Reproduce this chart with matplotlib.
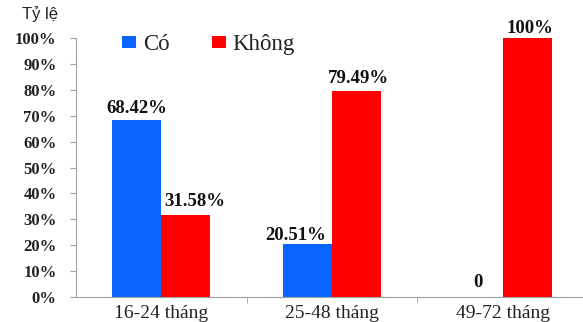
import matplotlib
matplotlib.use("Agg")
import matplotlib.pyplot as plt
import numpy as np

categories = ["16-24 tháng", "25-48 tháng", "49-72 tháng"]
series_names = ["Có", "Không"]
co_values = [68.42, 20.51, 0]
khong_values = [31.58, 79.49, 100]
co_labels = ["68.42%", "20.51%", "0"]
khong_labels = ["31.58%", "79.49%", "100%"]
y_ticks = [0, 10, 20, 30, 40, 50, 60, 70, 80, 90, 100]

# label nudges in pixels (the original shifts a few labels off the bar centre)
co_nudge = [(0, 7), (-12, 4), (0, 10)]
khong_nudge = [(9, 9), (2, 8), (3, 5)]

BLUE = "#0A64FF"
RED = "#FF0000"
SERIF = ["Liberation Serif", "DejaVu Serif"]
plt.rcParams["font.family"] = SERIF

fig = plt.figure(figsize=(5.83, 3.22), dpi=100)
# axes run a little past the right edge of the picture, like the original
ax = fig.add_axes([76 / 583, 1 - 297 / 322, 512 / 583, 259 / 322])

x = np.arange(len(categories))
w = 0.287
b1 = ax.bar(x - w / 2, co_values, w, color=BLUE, label=series_names[0])
b2 = ax.bar(x + w / 2, khong_values, w, color=RED, label=series_names[1])

for bars, labels, nudges in ((b1, co_labels, co_nudge), (b2, khong_labels, khong_nudge)):
    for bar, lab, (dx, dy) in zip(bars, labels, nudges):
        ax.annotate(lab, (bar.get_x() + bar.get_width() / 2, bar.get_height()),
                    xytext=(dx, dy), textcoords="offset pixels",
                    ha="center", va="baseline", fontsize=13.5, fontweight="bold",
                    color="#111111")

ax.set_xlim(-0.5, 2.5)
ax.set_ylim(0, 100)
ax.set_yticks(y_ticks)
ax.set_yticklabels([f"{v}%" for v in y_ticks], fontsize=12,
                   fontweight="bold", color="#222222")
ax.set_xticks(x)
ax.set_xticklabels(categories, fontsize=14, color="#222222")
ax.set_xticks([0.5, 1.5, 2.5], minor=True)
ax.tick_params(axis="x", which="major", length=0, pad=5.5)
ax.tick_params(axis="x", which="minor", length=4, color="#A0A0A0")
ax.tick_params(axis="y", length=4, color="#A0A0A0", pad=10)

for s in ("top", "right"):
    ax.spines[s].set_visible(False)
for s in ("left", "bottom"):
    ax.spines[s].set_color("#A0A0A0")

leg = ax.legend(loc="upper left", bbox_to_anchor=(0.05, 1.095), ncol=2, frameon=False,
                fontsize=16.5, handlelength=0.6, handleheight=0.4, handletextpad=0.3,
                columnspacing=1.85)
for t in leg.get_texts():
    t.set_fontfamily(SERIF)
    t.set_color("#222222")

fig.text(22 / 583, 1 - 14 / 322, "Tỷ lệ", fontsize=12, family="Liberation Sans",
         va="center", ha="left", color="#222222")

fig.savefig("out.png", dpi=100)
